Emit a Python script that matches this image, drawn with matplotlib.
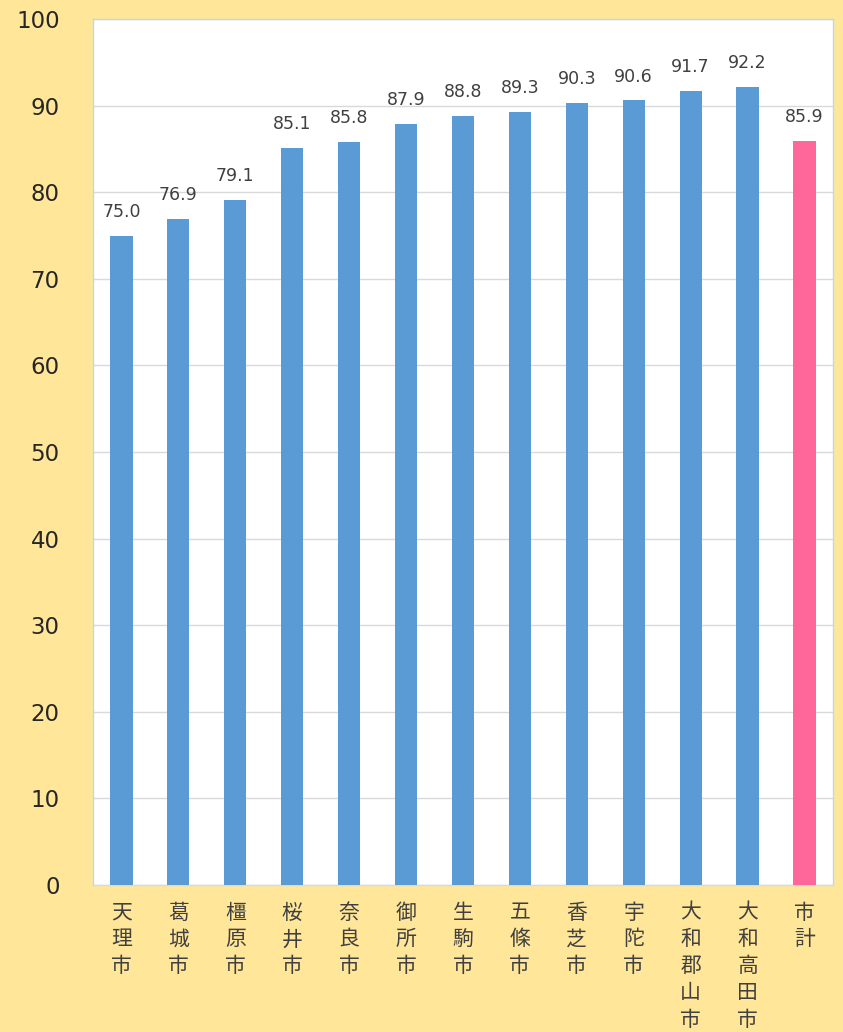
import matplotlib
matplotlib.use("Agg")
import matplotlib.pyplot as plt

plt.rcParams['font.family'] = ['Noto Sans CJK JP', 'DejaVu Sans']

cities = ['天理市', '葛城市', '橿原市', '桜井市', '奈良市', '御所市', '生駒市',
          '五條市', '香芝市', '宇陀市', '大和郡山市', '大和高田市', '市計']
values = [75.0, 76.9, 79.1, 85.1, 85.8, 87.9, 88.8, 89.3, 90.3, 90.6, 91.7, 92.2, 85.9]
yticks = [0, 10, 20, 30, 40, 50, 60, 70, 80, 90, 100]

bg = '#FFE699'
blue = '#5B9BD5'
pink = '#FF6699'
text_color = '#404040'

fig = plt.figure(figsize=(8.43, 10.32), dpi=100)
fig.patch.set_facecolor(bg)
ax = fig.add_axes([0.1103, 0.1424, 0.8778, 0.8392])
ax.set_facecolor('white')

x = list(range(len(cities)))
colors = [blue] * (len(cities) - 1) + [pink]
bars = ax.bar(x, values, width=0.39, color=colors, zorder=3)

for b, v in zip(bars, values):
    ax.text(b.get_x() + b.get_width() / 2, v + 1.7, f"{v:.1f}",
            ha='center', va='bottom', fontsize=12.5, color=text_color,
            family='DejaVu Sans', zorder=4)

ax.set_xlim(-0.5, len(cities) - 0.5)
ax.set_ylim(0, 100)
ax.set_yticks(yticks)
ax.set_yticklabels([str(t) for t in yticks], fontsize=16.5, color='#262626',
                   family='DejaVu Sans')
ax.yaxis.grid(True, color='#D9D9D9', linewidth=1, zorder=0)
ax.tick_params(axis='y', length=0, pad=24)
ax.tick_params(axis='x', length=0, pad=12)

ax.set_xticks(x)
ax.set_xticklabels(['\n'.join(c) for c in cities], fontsize=15, color=text_color,
                   va='top', linespacing=1.28)

for s in ['top', 'left', 'right']:
    ax.spines[s].set_color('#BDD7EE')
    ax.spines[s].set_linewidth(1)
ax.spines['bottom'].set_color('#D9D9D9')
ax.spines['bottom'].set_linewidth(1)

fig.savefig('out.png', dpi=100, facecolor=bg)
